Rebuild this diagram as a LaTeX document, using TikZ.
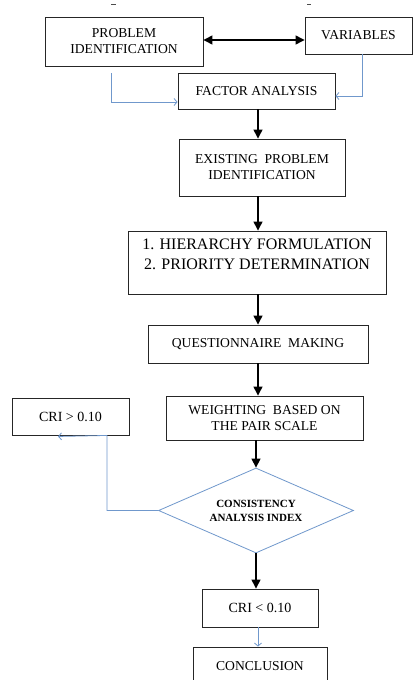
\documentclass[tikz,border=0pt]{standalone}
\usepackage{fontspec}
\setmainfont{Liberation Serif}
\usetikzlibrary{shapes.geometric,arrows.meta,calc}
\definecolor{flowblue}{RGB}{112,152,204}
\begin{document}
\begin{tikzpicture}[x=1pt,y=-1pt,
  box/.style={draw=black!85,line width=0.9pt,inner sep=0pt,align=center,font=\fontsize{13.6}{16}\selectfont},
  barr/.style={-{Triangle[width=9pt,length=9pt]},line width=1.3pt,black},
  dbarr/.style={{Triangle[width=9pt,length=9pt]}-{Triangle[width=9pt,length=9pt]},line width=1.3pt,black},
  bbarr/.style={-{Straight Barb[length=3pt,width=7pt]},draw=flowblue,line width=0.8pt}]
\path[use as bounding box,fill=white] (0,0) rectangle (413,680);
\draw[line width=1pt,black!70] (111,4) -- (116,4);
\draw[line width=1pt,black!70] (307,4) -- (311,4);
\node[box,minimum width=158pt,minimum height=49pt] (prob) at (124,41.5) {PROBLEM\\IDENTIFICATION};
\node[box,minimum width=107pt,minimum height=37pt] (var) at (358.5,35.5) {VARIABLES};
\node[box,minimum width=157pt,minimum height=36pt] (fac) at (256.5,91) {FACTOR ANALYSIS};
\node[box,minimum width=166pt,minimum height=57pt] (exi) at (262,167.5) {EXISTING\ \ PROBLEM\\IDENTIFICATION};
\node[box,minimum width=258pt,minimum height=63pt,font=\fontsize{16}{20.5}\selectfont] (hie) at (257,262.5) {1. HIERARCHY FORMULATION\\2. PRIORITY DETERMINATION\\[-4pt]};
\node[box,minimum width=220pt,minimum height=38pt] (que) at (258,344) {QUESTIONNAIRE\ \ MAKING};
\node[box,minimum width=197pt,minimum height=44pt] (wei) at (264.5,418) {WEIGHTING\ \ BASED ON\\THE PAIR SCALE};
\node[box,minimum width=117pt,minimum height=37pt,font=\fontsize{14}{16}\selectfont] (cgt) at (70.5,416.5) {CRI > 0.10};
\node[diamond,draw=flowblue,line width=0.8pt,minimum width=195pt,minimum height=85pt,inner sep=0pt,aspect=2.3,align=center,font=\bfseries\fontsize{11}{14}\selectfont] (dia) at (256,510.5) {CONSISTENCY\\ANALYSIS INDEX};
\node[box,minimum width=116pt,minimum height=38pt,font=\fontsize{14}{16}\selectfont] (clt) at (260,608) {CRI < 0.10};
\node[box,minimum width=134pt,minimum height=38pt] (con) at (260,666) {CONCLUSION};
\coordinate (ax) at (258,0);
\draw[dbarr] (prob.east |- 0,40) -- (var.west |- 0,40);
\draw[barr] (fac.south -| ax) -- (exi.north -| ax);
\draw[barr] (exi.south -| ax) -- (hie.north -| ax);
\draw[barr] (hie.south -| ax) -- (que.north -| ax);
\draw[barr] (que.south -| ax) -- (wei.north -| ax);
\draw[barr] (wei.south -| dia.north) -- (dia.north);
\draw[barr] (dia.south) -- (dia.south |- clt.north);
\draw[bbarr] (clt.south -| ax) -- (con.north -| ax);
\draw[bbarr] ([xshift=-13pt,yshift=-7pt]prob.south) |- ([yshift=-11pt]fac.west);
\draw[bbarr] ([xshift=3.5pt]var.south) |- ([yshift=-5pt]fac.east);
\draw[bbarr] (dia.west) -| ([xshift=36.5pt]cgt.south) -- ([xshift=-12.5pt,yshift=-1pt]cgt.south);
\end{tikzpicture}
\end{document}
